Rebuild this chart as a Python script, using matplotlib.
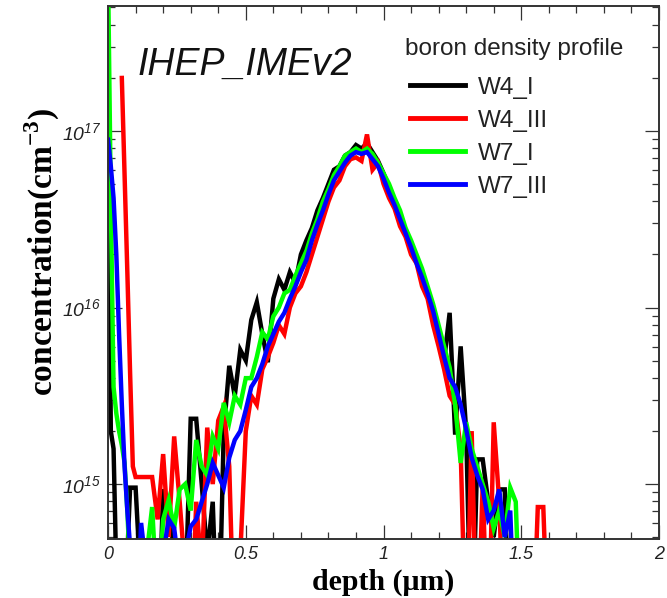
import numpy as np
import matplotlib
matplotlib.use("Agg")
import matplotlib.pyplot as plt
from matplotlib.ticker import FixedLocator, LogLocator, MultipleLocator, NullFormatter

plt.rcParams["mathtext.fontset"] = "custom"
plt.rcParams["mathtext.it"] = "Liberation Sans:italic"
plt.rcParams["mathtext.rm"] = "Liberation Sans:italic"
plt.rcParams["mathtext.bf"] = "Liberation Serif:bold"

# depth grid (um): 0.01 steps near the surface, 0.02 steps after
depth = np.concatenate([np.arange(0, 0.105, 0.01), np.arange(0.12, 1.605, 0.02)])

# log10 of boron concentration (cm^-3); 14.0 = below the axis
w4_i_log = [17.30, 15.30, 15.20, 14.50, 14.00, 14.00, 14.00, 14.60, 14.98, 14.98, 14.98,
            14.40, 14.00, 14.50, 14.00, 14.97, 14.90, 14.60, 14.50, 14.30, 15.37,
            15.37, 15.00, 14.60, 14.90, 14.00, 15.30, 15.67, 15.50, 15.76, 15.70,
            15.93, 16.03, 15.85, 15.69, 16.05, 16.16, 16.10, 16.20, 16.14, 16.30,
            16.38, 16.45, 16.55, 16.62, 16.70, 16.78, 16.80, 16.86, 16.88, 16.92,
            16.90, 16.93, 16.88, 16.83, 16.76, 16.68, 16.60, 16.52, 16.44, 16.36,
            16.28, 16.20, 16.10, 16.00, 15.88, 15.70, 15.97, 15.28, 15.78, 15.30,
            14.00, 15.14, 15.14, 14.90, 14.70, 14.97, 14.97, 14.00, 14.00, 14.00,
            14.00, 14.00, 14.00, 14.00, 14.00]

w4_iii_log = [np.nan, np.nan, np.nan, np.nan, np.nan, 17.30, 16.75, 16.20, 15.63, 15.10, 15.04,
              15.04, 15.04, 15.04, 14.80, 15.17, 14.70, 15.27, 14.90, 14.50, 14.00,
              14.90, 14.50, 15.32, 15.00, 15.36, 15.44, 15.10, 14.00, 14.60, 15.30,
              15.50, 15.45, 15.65, 15.72, 15.80, 15.90, 15.85, 16.00, 16.08, 16.12,
              16.20, 16.30, 16.40, 16.50, 16.60, 16.68, 16.72, 16.80, 16.84, 16.85,
              16.83, 16.98, 16.78, 16.82, 16.70, 16.62, 16.56, 16.46, 16.40, 16.30,
              16.25, 16.12, 16.05, 15.90, 15.78, 15.65, 15.50, 15.45, 15.20, 14.00,
              15.30, 14.00, 15.00, 14.00, 15.35, 14.90, 14.00, 14.00, 14.00, 14.00,
              14.00, 14.00, 14.87, 14.87, 14.00]

w7_i_log = [17.90, 16.60, 15.55, 15.40, 15.30, 15.22, 15.12, 14.85, 14.50, 14.00, 14.00,
            14.00, 14.60, 14.87, 14.30, 14.80, 14.91, 14.75, 14.97, 15.00, 14.85,
            15.25, 15.10, 15.05, 15.27, 15.20, 15.46, 15.35, 15.50, 15.45, 15.60,
            15.60, 15.72, 15.86, 15.82, 15.95, 16.00, 16.08, 16.10, 16.18, 16.25,
            16.32, 16.42, 16.50, 16.60, 16.67, 16.75, 16.80, 16.86, 16.88, 16.90,
            16.88, 16.90, 16.87, 16.82, 16.76, 16.70, 16.62, 16.55, 16.45, 16.38,
            16.30, 16.22, 16.12, 16.02, 15.90, 15.78, 15.66, 15.45, 15.12, 15.35,
            15.20, 15.10, 15.00, 14.90, 14.75, 14.85, 14.70, 14.98, 14.90, 14.00,
            14.00, 14.00, 14.00, 14.00, 14.00]

w7_iii_log = [16.95, 16.80, 16.62, 16.30, 15.85, 15.45, 15.10, 14.85, 14.65, 14.00, 14.00,
              14.78, 14.50, 14.00, 14.00, 14.60, 14.80, 14.75, 14.50, 14.60, 14.76,
              14.80, 14.90, 15.00, 15.12, 15.05, 14.98, 15.15, 15.25, 15.30, 15.42,
              15.55, 15.60, 15.68, 15.78, 15.85, 15.92, 15.97, 16.05, 16.12, 16.20,
              16.27, 16.38, 16.47, 16.55, 16.64, 16.72, 16.77, 16.82, 16.86, 16.88,
              16.87, 16.88, 16.84, 16.80, 16.73, 16.65, 16.58, 16.50, 16.42, 16.34,
              16.25, 16.17, 16.08, 15.98, 15.85, 15.72, 15.60, 15.55, 15.45, 15.31,
              15.15, 15.05, 14.97, 14.80, 14.85, 14.97, 14.70, 14.85, 14.00, 14.00,
              14.00, 14.00, 14.00, 14.00, 14.00]

series = [("W4_I", w4_i_log, "#000000"),
          ("W4_III", w4_iii_log, "#ff0000"),
          ("W7_I", w7_i_log, "#00ff00"),
          ("W7_III", w7_iii_log, "#0000ff")]

xticks = [0, 0.5, 1, 1.5, 2]
xticklabels = ["0", "0.5", "1", "1.5", "2"]
yticks = [1e15, 1e16, 1e17]
yticklabels = [r"$10^{15}$", r"$10^{16}$", r"$10^{17}$"]

fig = plt.figure(figsize=(6.67, 5.98), dpi=100)
ax = fig.add_axes([0.162, 0.099, 0.826, 0.891])

for name, vals, col in series:
    ax.plot(depth, 10 ** np.array(vals, dtype=float), color=col, lw=3.2, label=name,
            solid_joinstyle="miter")

ax.set_yscale("log")
ax.set_xlim(0, 2)
ax.set_ylim(4.9e14, 5.1e17)

ax.xaxis.set_major_locator(FixedLocator(xticks))
ax.xaxis.set_minor_locator(MultipleLocator(0.1))
ax.set_xticklabels(xticklabels, fontstyle="italic", family="Liberation Sans", fontsize=13)

ax.yaxis.set_major_locator(FixedLocator(yticks))
ax.yaxis.set_minor_locator(LogLocator(base=10, subs=np.arange(2, 10)))
ax.yaxis.set_minor_formatter(NullFormatter())
ax.set_yticklabels(yticklabels, fontsize=14)

ax.tick_params(which="both", direction="in", top=True, right=True, width=0.9, colors="#333333",
               labelcolor="#222222")
ax.tick_params(which="major", length=10, pad=5)
ax.tick_params(which="minor", length=5)
for sp in ax.spines.values():
    sp.set_linewidth(1.4)
    sp.set_color("#333333")

ax.set_xlabel("depth (μm)", family="Liberation Serif", fontweight="bold", fontsize=21.5,
              labelpad=4)
ax.set_ylabel(r"concentration(cm$^{\mathbf{-3}}$)", family="Liberation Serif",
              fontweight="bold", fontsize=24)
ax.yaxis.set_label_coords(-0.086, 0.538)

ax.text(0.054, 0.8705, "IHEP_IMEv2", transform=ax.transAxes, fontsize=27, fontstyle="italic",
        family="Liberation Sans", va="baseline", ha="left", color="#111111")

ax.text(0.539, 0.908, "boron density profile", transform=ax.transAxes, fontsize=17.5,
        family="Liberation Sans", va="baseline", ha="left", color="#222222")

leg = ax.legend(loc="upper left", bbox_to_anchor=(0.512, 0.9035), frameon=False,
                prop={"family": "Liberation Sans", "size": 17.5},
                handlelength=2.26, handletextpad=0.53, labelspacing=0.45,
                borderpad=0.3)
for t in leg.get_texts():
    t.set_color("#222222")
for h in leg.get_lines():
    h.set_linewidth(3.5)

fig.savefig("out.png", dpi=100)
